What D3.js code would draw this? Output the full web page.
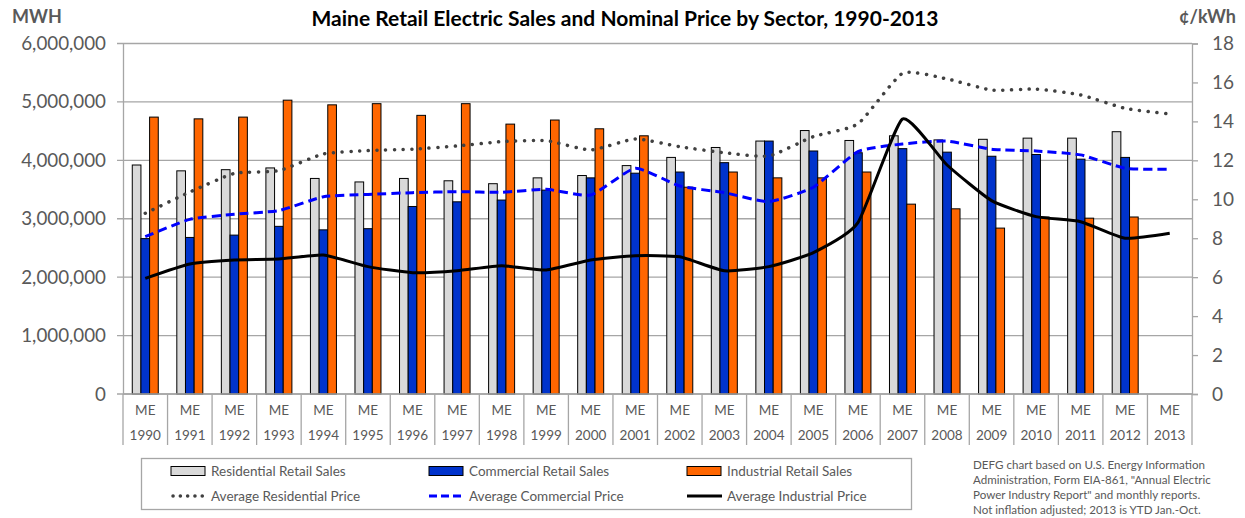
<!DOCTYPE html>
<html>
<head>
<meta charset="utf-8">
<script src="https://cdn.jsdelivr.net/npm/d3@7"></script>
<style>
  body { margin: 0; background: #fff; }
  svg { font-family: Lato, "Open Sans", sans-serif; }
</style>
</head>
<body>
<svg width="1245" height="518"></svg>
<script>
// categories and series
var years = ["1990","1991","1992","1993","1994","1995","1996","1997","1998","1999","2000","2001",
             "2002","2003","2004","2005","2006","2007","2008","2009","2010","2011","2012","2013"];

var resSales = [3920000,3820000,3840000,3870000,3690000,3630000,3690000,3650000,3600000,3700000,3740000,3910000,
                4050000,4220000,4330000,4510000,4340000,4420000,4350000,4360000,4380000,4380000,4490000,null];
var comSales = [2660000,2680000,2720000,2870000,2810000,2830000,3210000,3290000,3320000,3490000,3700000,3780000,
                3800000,3960000,4330000,4160000,4130000,4200000,4140000,4070000,4100000,4020000,4050000,null];
var indSales = [4740000,4710000,4740000,5030000,4950000,4970000,4770000,4970000,4620000,4690000,4540000,4420000,
                3540000,3800000,3700000,3700000,3800000,3250000,3170000,2840000,3030000,3010000,3030000,null];

// cents per kWh
var resPrice = [9.28,10.37,11.33,11.47,12.33,12.50,12.57,12.74,12.96,13.01,12.53,13.10,
                12.70,12.39,12.22,13.22,13.87,16.47,16.18,15.61,15.66,15.36,14.67,14.38];
var comPrice = [8.08,8.97,9.23,9.42,10.13,10.25,10.34,10.39,10.36,10.51,10.22,11.59,
                10.68,10.34,9.88,10.62,12.45,12.84,12.99,12.57,12.48,12.28,11.59,11.54];
var indPrice = [5.94,6.68,6.88,6.93,7.14,6.54,6.23,6.33,6.59,6.37,6.88,7.10,
                7.05,6.33,6.54,7.26,8.80,14.12,11.76,9.93,9.11,8.85,8.00,8.25];

var leftTicks = [0,1000000,2000000,3000000,4000000,5000000,6000000];
var rightTicks = [0,2,4,6,8,10,12,14,16,18];

var noteLines = ["DEFG chart based on U.S. Energy Information",
                 "Administration, Form EIA-861, \"Annual Electric",
                 "Power Industry Report\" and monthly reports.",
                 "Not inflation adjusted; 2013 is YTD Jan.-Oct."];

var svg = d3.select("svg");
var plotL = 123, plotR = 1192, plotT = 43.5, plotB = 394;
var grey = "#595959", gridCol = "#a6a6a6";

var x0 = d3.scaleBand().domain(years).range([plotL, plotR]);
var groupW = 26;
var x1 = d3.scaleBand().domain(["res","com","ind"]).range([0, groupW]);
var yL = d3.scaleLinear().domain([0, 6000000]).range([plotB, plotT]);
var yR = d3.scaleLinear().domain([0, 18]).range([plotB, plotT]);

// gridlines
svg.append("g").selectAll("line")
  .data(leftTicks)
  .enter().append("line")
  .attr("x1", plotL - 6).attr("x2", plotR)
  .attr("y1", function (d) { return yL(d); })
  .attr("y2", function (d) { return yL(d); })
  .attr("stroke", gridCol).attr("stroke-width", 1.3);

// left axis
var gl = svg.append("g")
  .attr("transform", "translate(" + plotL + ",0)")
  .call(d3.axisLeft(yL).tickValues(leftTicks).tickFormat(d3.format(",")).tickSize(0).tickPadding(17));
gl.select(".domain").attr("stroke", gridCol).attr("stroke-width", 1.3);
gl.selectAll("text").attr("fill", grey).style("font-size", "18.8px").style("font-family", "Lato");

// right axis
var gr = svg.append("g")
  .attr("transform", "translate(" + plotR + ",0)")
  .call(d3.axisRight(yR).tickValues(rightTicks).tickSize(6).tickPadding(14));
gr.select(".domain").attr("stroke", gridCol).attr("stroke-width", 1.3);
gr.selectAll("line").attr("stroke", gridCol).attr("stroke-width", 1.3);
gr.selectAll("text").attr("fill", grey).style("font-size", "19px").style("font-family", "Lato");

// bars
var series = [
  { key: "res", values: resSales, fill: "#d9d9d9" },
  { key: "com", values: comSales, fill: "#0033cc" },
  { key: "ind", values: indSales, fill: "#ff6600" }
];
var off = (x0.bandwidth() - groupW) / 2;
series.forEach(function (s) {
  svg.append("g").selectAll("rect")
    .data(s.values.map(function (v, i) { return { year: years[i], v: v }; })
      .filter(function (d) { return d.v != null; }))
    .enter().append("rect")
    .attr("x", function (d) { return x0(d.year) + off + x1(s.key); })
    .attr("width", x1.bandwidth())
    .attr("y", function (d) { return yL(d.v); })
    .attr("height", function (d) { return plotB - yL(d.v); })
    .attr("fill", s.fill)
    .attr("stroke", "#000").attr("stroke-width", 1);
});

// category axis: separators and two label rows
svg.append("line")
  .attr("x1", plotL).attr("x2", plotR).attr("y1", plotB).attr("y2", plotB)
  .attr("stroke", gridCol).attr("stroke-width", 1.3);
svg.append("g").selectAll("line")
  .data(years.concat(["end"]))
  .enter().append("line")
  .attr("x1", function (d) { return d == "end" ? plotR : x0(d); })
  .attr("x2", function (d) { return d == "end" ? plotR : x0(d); })
  .attr("y1", plotB).attr("y2", 445)
  .attr("stroke", gridCol).attr("stroke-width", 1.3);
var cat = svg.append("g").selectAll("g")
  .data(years)
  .enter().append("g")
  .attr("transform", function (d) { return "translate(" + (x0(d) + x0.bandwidth() / 2) + ",0)"; });
cat.append("text").attr("y", 410).attr("dy", "0.35em").attr("text-anchor", "middle")
  .attr("fill", grey).style("font-size", "13.5px").text("ME");
cat.append("text").attr("y", 435).attr("dy", "0.35em").attr("text-anchor", "middle")
  .attr("fill", grey).style("font-size", "13.5px").text(function (d) { return d; });

// price lines
var lines = [
  { values: resPrice, stroke: "#404040", width: 3.5, dash: "0.1,8.6", cap: "round" },
  { values: comPrice, stroke: "#0000ff", width: 3, dash: "9,5", cap: "butt" },
  { values: indPrice, stroke: "#000", width: 3, dash: null, cap: "butt" }
];
var lineGen = d3.line()
  .x(function (d, i) { return x0(years[i]) + x0.bandwidth() / 2; })
  .y(function (d) { return yR(d); })
  .curve(d3.curveCardinal.tension(0.5));
lines.forEach(function (l) {
  svg.append("path")
    .attr("d", lineGen(l.values))
    .attr("fill", "none")
    .attr("stroke", l.stroke)
    .attr("stroke-width", l.width)
    .attr("stroke-dasharray", l.dash)
    .attr("stroke-linecap", l.cap);
});

// titles
svg.append("text").attr("x", 625).attr("y", 26).attr("text-anchor", "middle")
  .style("font-size", "21px").style("font-weight", "bold").attr("fill", "#000")
  .text("Maine Retail Electric Sales and Nominal Price by Sector, 1990-2013");
svg.append("text").attr("x", 12).attr("y", 23)
  .style("font-size", "18px").style("font-weight", "bold").attr("fill", grey).text("MWH");
svg.append("text").attr("x", 1236).attr("y", 23).attr("text-anchor", "end")
  .style("font-size", "18px").style("font-weight", "bold").attr("fill", grey).text("¢/kWh");

// legend
var legend = svg.append("g");
legend.append("rect").attr("x", 141.5).attr("y", 458.5).attr("width", 770).attr("height", 51)
  .attr("fill", "#fff").attr("stroke", gridCol).attr("stroke-width", 1.3);
var legItems = [
  { label: "Residential Retail Sales", type: "bar", fill: "#d9d9d9", x: 171, row: 0 },
  { label: "Commercial Retail Sales", type: "bar", fill: "#0033cc", x: 429, row: 0 },
  { label: "Industrial Retail Sales", type: "bar", fill: "#ff6600", x: 687, row: 0 },
  { label: "Average Residential Price", type: "line", l: lines[0], x: 171, row: 1 },
  { label: "Average Commercial Price", type: "line", l: lines[1], x: 429, row: 1 },
  { label: "Average Industrial Price", type: "line", l: lines[2], x: 687, row: 1 }
];
legItems.forEach(function (it) {
  var cy = it.row == 0 ? 471 : 496;
  if (it.type == "bar") {
    legend.append("rect").attr("x", it.x).attr("y", cy - 4.5).attr("width", 34).attr("height", 9)
      .attr("fill", it.fill).attr("stroke", "#000").attr("stroke-width", 1);
  } else {
    legend.append("line").attr("x1", it.x + (it.l.cap == "round" ? 2 : 0)).attr("x2", it.x + 35)
      .attr("y1", cy).attr("y2", cy)
      .attr("stroke", it.l.stroke).attr("stroke-width", it.l.width)
      .attr("stroke-dasharray", it.l.dash == null ? null : (it.l.cap == "round" ? "0.1,7.2" : "8,4"))
      .attr("stroke-linecap", it.l.cap);
  }
  legend.append("text").attr("x", it.x + 40).attr("y", cy).attr("dy", "0.35em")
    .attr("fill", grey).style("font-size", "13.5px").text(it.label);
});

// source note
svg.append("g").selectAll("text")
  .data(noteLines)
  .enter().append("text")
  .attr("x", 973).attr("y", function (d, i) { return 465 + i * 15; }).attr("dy", "0.35em")
  .attr("fill", grey).style("font-size", "11.6px").text(function (d) { return d; });
</script>
</body>
</html>
